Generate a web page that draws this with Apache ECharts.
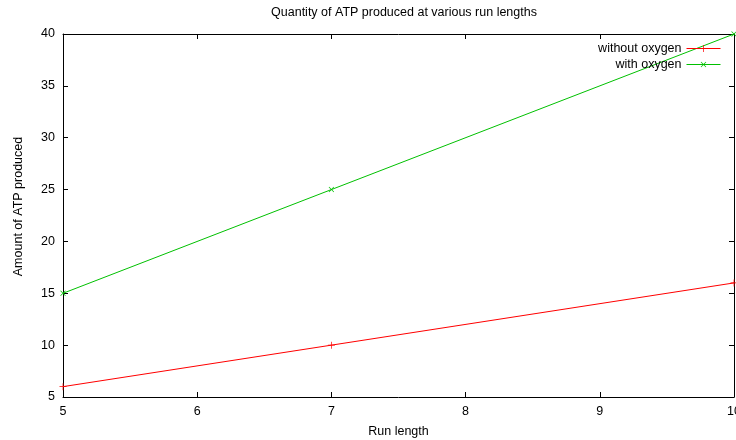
<!DOCTYPE html>
<html>
<head>
<meta charset="utf-8">
<script src="https://cdn.jsdelivr.net/npm/echarts@6/dist/echarts.min.js"></script>
<style>html,body{margin:0;padding:0;background:#fff}#c{width:736px;height:440px}</style>
</head>
<body>
<div id="c"></div>
<script>
// Run lengths and ATP amounts
const runLengths = [5, 7, 10];
const withoutOxygen = [6, 10, 16];
const withOxygen = [15, 25, 40];
const xTicks = [5, 6, 7, 8, 9, 10];
const yTicks = [5, 10, 15, 20, 25, 30, 35, 40];
const seriesNames = ['without oxygen', 'with oxygen'];
const seriesColors = ['#ff0000', '#00c000'];

const FONT = 'Liberation Sans, Arial, sans-serif';
const SIZE = 12.5;
const PLUS = 'path://M4.5,0h1v4.5h4.5v1h-4.5v4.5h-1v-4.5h-4.5v-1h4.5z';

const axisLine = { show: true, lineStyle: { color: '#000', width: 1 } };
const tickIn = { show: true, inside: true, length: 5, lineStyle: { color: '#000', width: 1 } };
const lbl = { color: '#000', fontFamily: FONT, fontSize: SIZE };

const chart = echarts.init(document.getElementById('c'));
chart.setOption({
  animation: false,
  backgroundColor: '#fff',
  title: {
    text: 'Quantity of ATP produced at various run lengths',
    left: 399, top: 1, textAlign: 'center',
    textStyle: { color: '#000', fontFamily: FONT, fontSize: SIZE, fontWeight: 'normal' }
  },
  legend: {
    orient: 'vertical', right: 10, top: 37, align: 'right',
    itemWidth: 34, itemHeight: 9, itemGap: 3,
    textStyle: { color: '#000', fontFamily: FONT, fontSize: SIZE },
    data: seriesNames.map((n, i) => ({
      name: n,
      itemStyle: { color: seriesColors[i] },
      lineStyle: { color: seriesColors[i], width: 1 }
    }))
  },
  grid: { left: 63, right: 2, top: 34, bottom: 43, outerBoundsMode: 'none', containLabel: false },
  xAxis: [{
    type: 'value', min: 5, max: 10, interval: 1,
    name: 'Run length', nameLocation: 'middle', nameGap: 28,
    nameTextStyle: lbl,
    axisLine, axisTick: tickIn, splitLine: { show: false },
    axisLabel: Object.assign({ margin: 8, formatter: v => xTicks.includes(v) ? String(v) : '' }, lbl)
  }, {
    type: 'value', min: 5, max: 10, interval: 1, position: 'top',
    axisLine, axisTick: tickIn, splitLine: { show: false }, axisLabel: { show: false }
  }],
  yAxis: [{
    type: 'value', min: 5, max: 40, interval: 5,
    name: 'Amount of ATP produced', nameLocation: 'middle', nameGap: 38, nameRotate: 90,
    nameTextStyle: Object.assign({ padding: [0, 0, 0, 18] }, lbl),
    axisLine, axisTick: tickIn, splitLine: { show: false },
    axisLabel: Object.assign({ margin: 8, formatter: v => yTicks.includes(v) ? String(v) : '' }, lbl)
  }, {
    type: 'value', min: 5, max: 40, interval: 5, position: 'right',
    axisLine, axisTick: tickIn, splitLine: { show: false }, axisLabel: { show: false }
  }],
  series: [{
    name: seriesNames[0], type: 'line',
    data: runLengths.map((x, i) => [x, withoutOxygen[i]]),
    symbol: PLUS, symbolSize: 7, showSymbol: true,
    lineStyle: { color: seriesColors[0], width: 1 },
    itemStyle: { color: seriesColors[0] }
  }, {
    name: seriesNames[1], type: 'line',
    data: runLengths.map((x, i) => [x, withOxygen[i]]),
    symbol: PLUS, symbolSize: 7, symbolRotate: 45, showSymbol: true,
    lineStyle: { color: seriesColors[1], width: 1 },
    itemStyle: { color: seriesColors[1] }
  }]
});
</script>
</body>
</html>
